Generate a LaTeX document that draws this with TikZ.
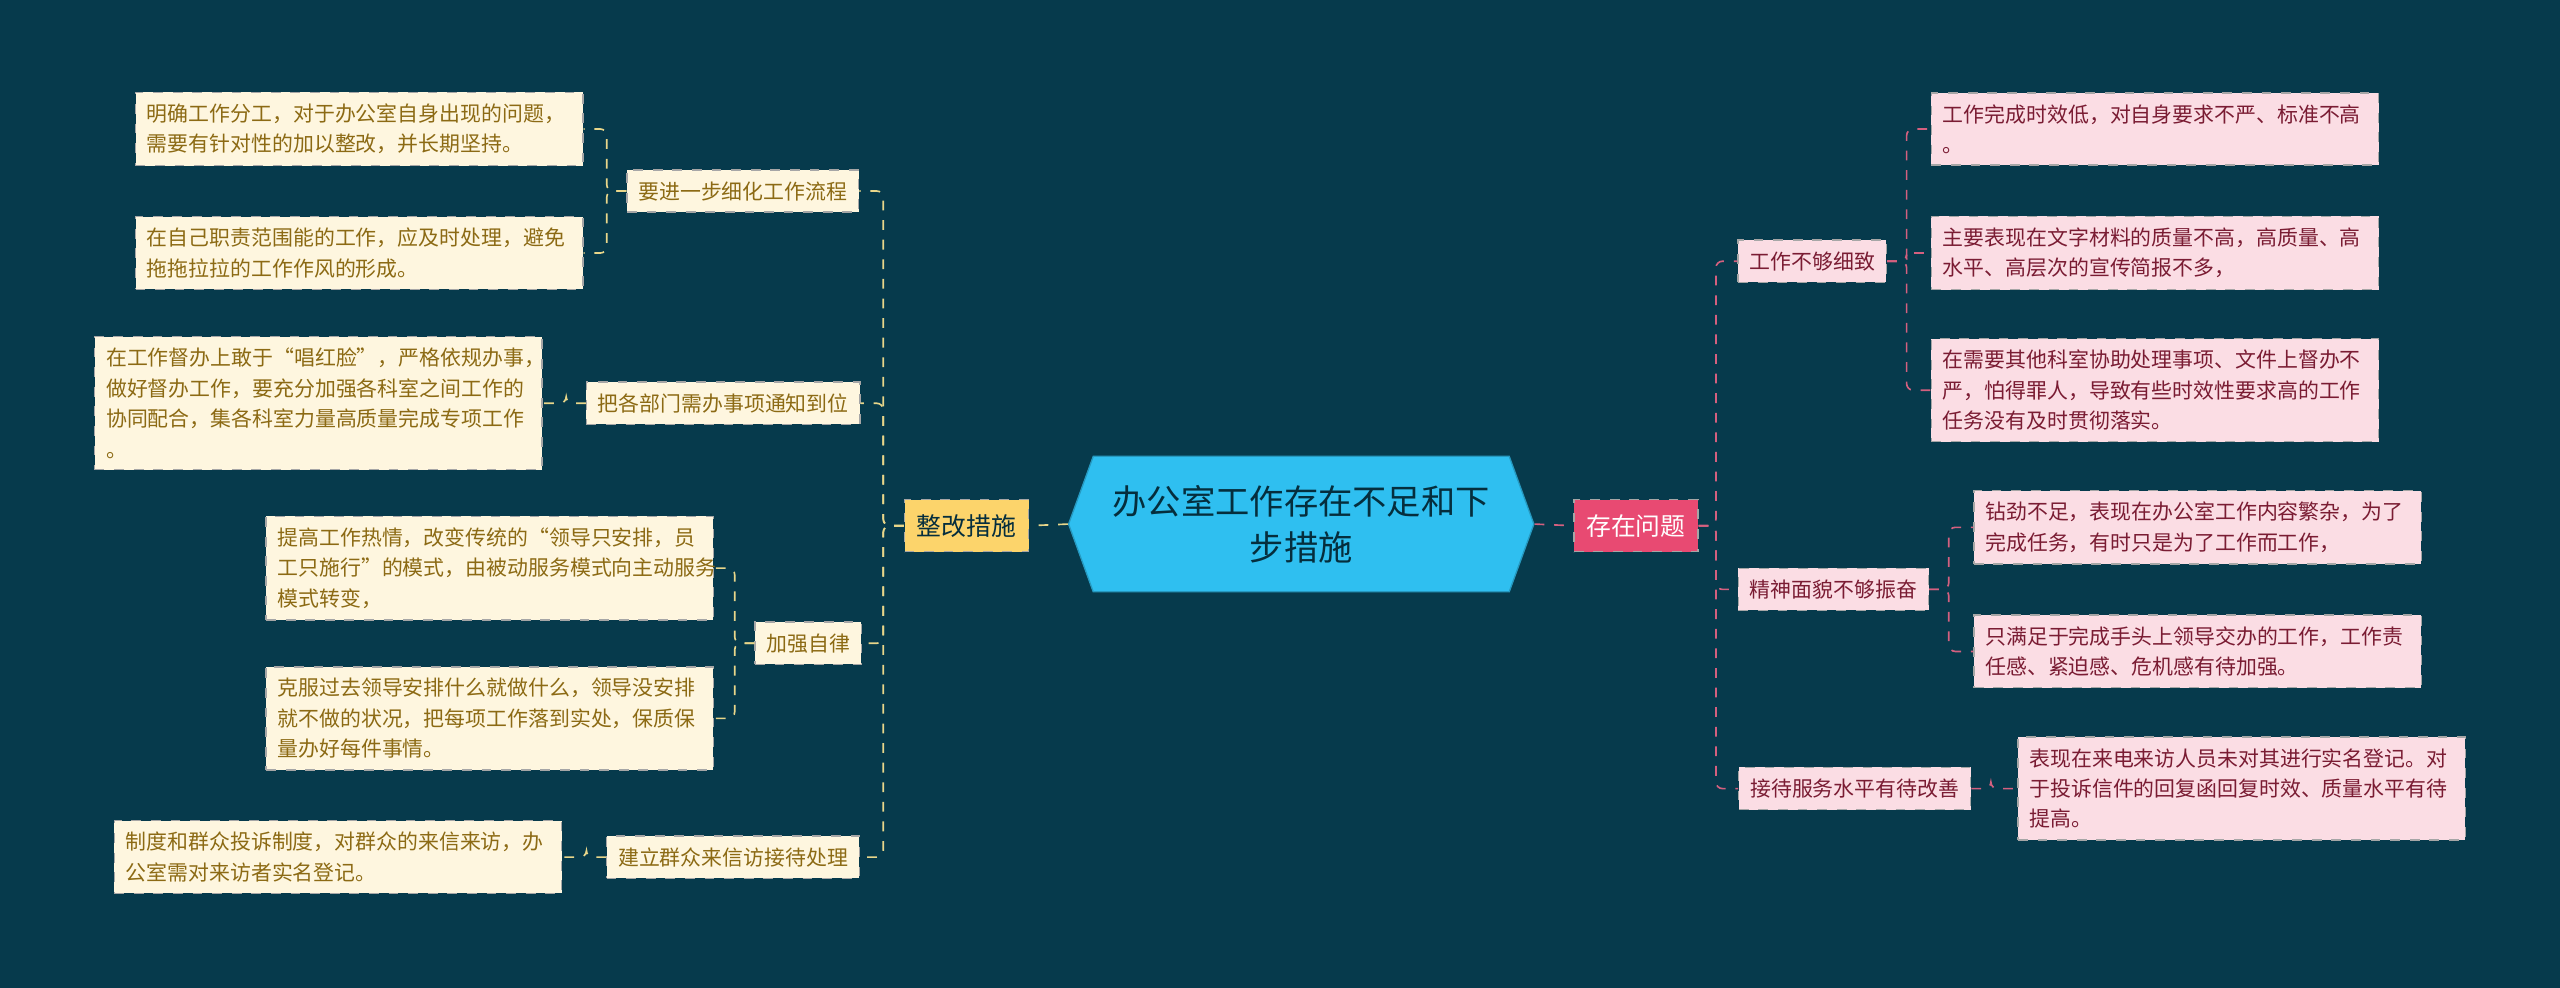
\documentclass[tikz,border=0pt]{standalone}
\usepackage{fontspec}
\setmainfont{Noto Sans CJK SC}
\usetikzlibrary{shapes.symbols}
\definecolor{bgcol}{HTML}{063A4C}
\definecolor{rootcol}{HTML}{2FBFF0}
\definecolor{lmain}{HTML}{FCD46B}
\definecolor{rmain}{HTML}{E84A72}
\definecolor{lfill}{HTML}{FEF6DF}
\definecolor{rfill}{HTML}{FBDDE4}
\definecolor{ltext}{HTML}{8C6A14}
\definecolor{rtext}{HTML}{7A1C33}
\definecolor{lline}{HTML}{E8D68A}
\definecolor{rline}{HTML}{D4607F}
\tikzset{
  boxbase/.style={draw=gray!70, dashed, line width=0.4pt, inner sep=3.5pt, font=\fontsize{6.4}{9.3}\selectfont},
  lbranch/.style={boxbase, fill=lfill, text=ltext, minimum height=12.5pt},
  rbranch/.style={boxbase, fill=rfill, text=rtext, minimum height=12.5pt},
  lleaf/.style={boxbase, fill=lfill, text=ltext, text width=130pt, align=left},
  rleaf/.style={boxbase, fill=rfill, text=rtext, text width=130pt, align=left},
  lwire/.style={draw=lline, dashed, line width=0.5pt, rounded corners=2pt},
  rwire/.style={draw=rline, dashed, line width=0.5pt, rounded corners=2pt},
}
\begin{document}
\begin{tikzpicture}[x=0.5pt,y=-0.5pt]
	\fill[bgcol] (0,0) rectangle (1568,605);
	\useasboundingbox (0,0) rectangle (1568,605);

	% root
	\node[shape=signal, signal to=east and west, signal pointer angle=140, fill=rootcol, draw=rootcol!80!black,
	  minimum width=142.5pt, minimum height=41.5pt, align=center, text=bgcol!80!black,
	  font=\fontsize{10.5}{14}\selectfont] (root) at (797,321) {办公室工作存在不足和下\\步措施};

	% main topics
	\node[boxbase, fill=lmain, text=bgcol!80!black, minimum width=38pt, minimum height=16pt,
	  font=\fontsize{7.6}{9}\selectfont] (fix) at (592,322) {整改措施};
	\node[boxbase, fill=rmain, text=white, minimum width=38pt, minimum height=16pt,
	  font=\fontsize{7.6}{9}\selectfont] (prob) at (1002,322) {存在问题};
	\draw[lwire] (root.west) -- (fix.east);
	\draw[rwire] (root.east) -- (prob.west);

	% left branches
	\node[lbranch] (flow) at (455,117) {要进一步细化工作流程};
	\node[lbranch] (notice) at (443,247) {把各部门需办事项通知到位};
	\node[lbranch] (self) at (495,394) {加强自律};
	\node[lbranch] (visit) at (449,525) {建立群众来信访接待处理};
	\foreach \b in {flow,notice,self,visit}
	  \draw[lwire] (fix.west) -- (541,322) |- (\b.east);

	% left leaves
	\node[lleaf] (flowA) at (220,79) {明确工作分工，对于办公室自身出现的问题，\\需要有针对性的加以整改，并长期坚持。};
	\node[lleaf] (flowB) at (220,155) {在自己职责范围能的工作，应及时处理，避免\\拖拖拉拉的工作作风的形成。};
	\node[lleaf] (noticeA) at (195,247) {在工作督办上敢于“唱红脸”，严格依规办事，\\做好督办工作，要充分加强各科室之间工作的\\协同配合，集各科室力量高质量完成专项工作\\。};
	\node[lleaf] (selfA) at (300,348) {提高工作热情，改变传统的“领导只安排，员\\工只施行”的模式，由被动服务模式向主动服务\\模式转变，};
	\node[lleaf] (selfB) at (300,440) {克服过去领导安排什么就做什么，领导没安排\\就不做的状况，把每项工作落到实处，保质保\\量办好每件事情。};
	\node[lleaf] (visitA) at (207,525) {制度和群众投诉制度，对群众的来信来访，办\\公室需对来访者实名登记。};
	\foreach \b/\l in {flow/flowA,flow/flowB,notice/noticeA,self/selfA,self/selfB,visit/visitA}
	  \draw[lwire] (\b.west) -- ++(-12,0) |- (\l.east);

	% right branches
	\node[rbranch] (detail) at (1110,160) {工作不够细致};
	\node[rbranch] (spirit) at (1123,361) {精神面貌不够振奋};
	\node[rbranch] (service) at (1136,483) {接待服务水平有待改善};
	\foreach \b in {detail,spirit,service}
	  \draw[rwire] (prob.east) -- (1051,322) |- (\b.west);

	% right leaves
	\node[rleaf] (detailA) at (1320,79) {工作完成时效低，对自身要求不严、标准不高\\。};
	\node[rleaf] (detailB) at (1320,155) {主要表现在文字材料的质量不高，高质量、高\\水平、高层次的宣传简报不多，};
	\node[rleaf] (detailC) at (1320,239) {在需要其他科室协助处理事项、文件上督办不\\严，怕得罪人，导致有些时效性要求高的工作\\任务没有及时贯彻落实。};
	\node[rleaf] (spiritA) at (1346,323) {钻劲不足，表现在办公室工作内容繁杂，为了\\完成任务，有时只是为了工作而工作，};
	\node[rleaf] (spiritB) at (1346,399) {只满足于完成手头上领导交办的工作，工作责\\任感、紧迫感、危机感有待加强。};
	\node[rleaf] (serviceA) at (1373,483) {表现在来电来访人员未对其进行实名登记。对\\于投诉信件的回复函回复时效、质量水平有待\\提高。};
	\foreach \b/\l in {detail/detailA,detail/detailB,detail/detailC,spirit/spiritA,spirit/spiritB,service/serviceA}
	  \draw[rwire] (\b.east) -- ++(12,0) |- (\l.west);
\end{tikzpicture}
\end{document}
